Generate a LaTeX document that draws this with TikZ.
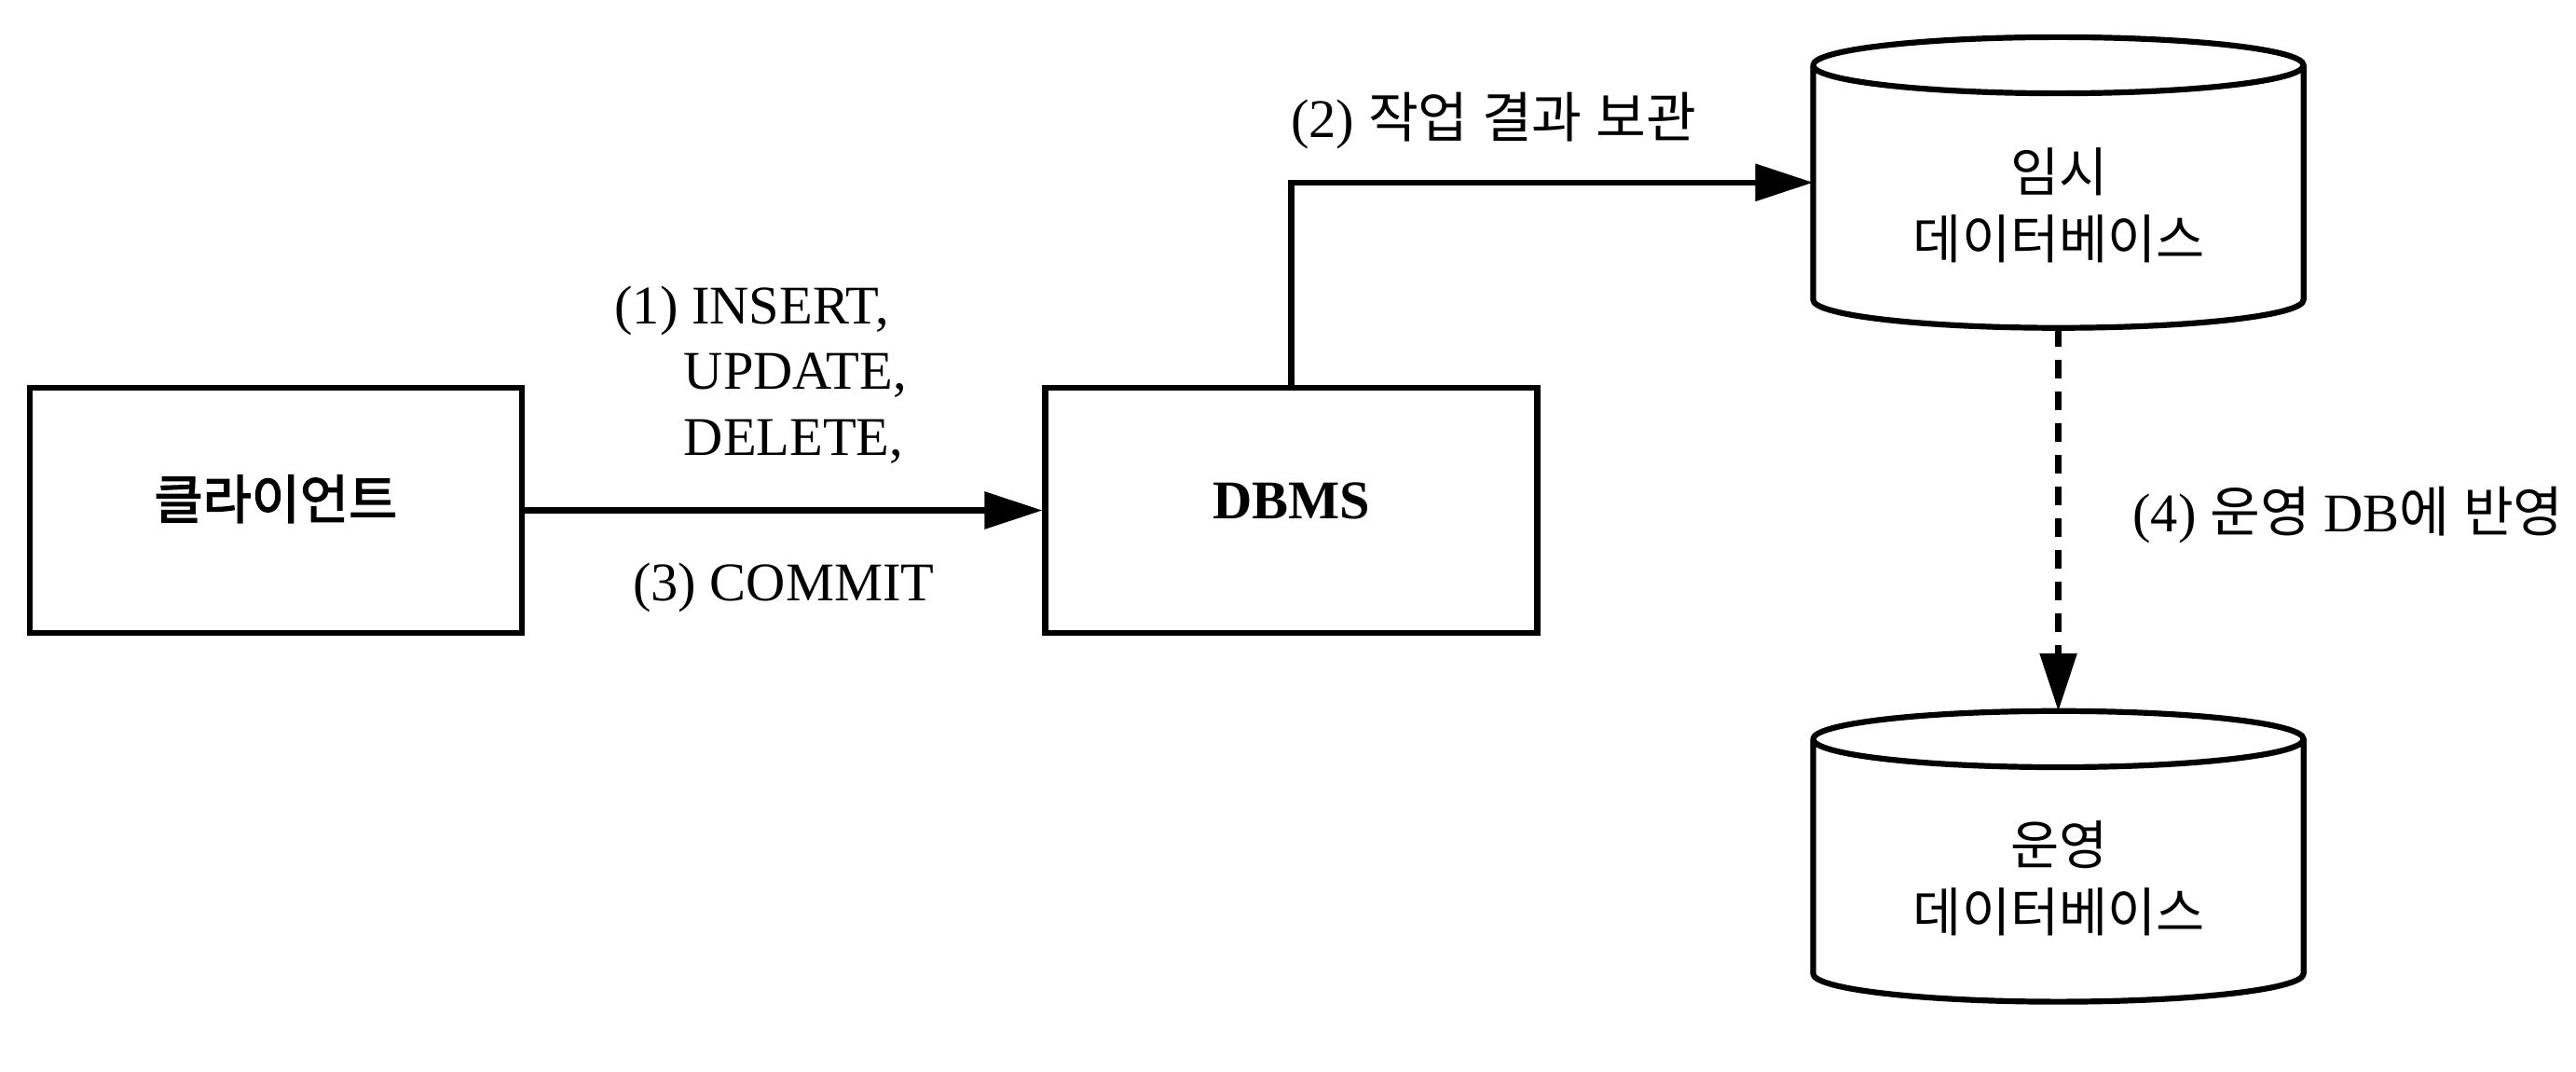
\documentclass[tikz,border=0pt]{standalone}
\usepackage{fontspec}
\setmainfont{Liberation Serif}
\newfontfamily\ko[Scale=1.0]{Noto Sans CJK KR}
\newfontfamily\kob[Scale=1.0,FakeBold=2.5]{Noto Sans CJK KR}
\usetikzlibrary{arrows.meta}
\newcommand\drawcyl[1]{%
  \draw[shapeline] ([yshift=-17pt]#1.north west) -- ([yshift=17pt]#1.south west)
    arc[start angle=180,end angle=360,x radius=148.5pt,y radius=17pt]
    -- ([yshift=-17pt]#1.north east)
    arc[start angle=0,end angle=180,x radius=148.5pt,y radius=17pt]
    arc[start angle=180,end angle=360,x radius=148.5pt,y radius=17pt];
}
\begin{document}
\begin{tikzpicture}[x=1pt,y=-1pt,
  basefont/.style={font=\fontsize{33}{40}\selectfont},
  boxnode/.style={draw, line width=3.5pt, minimum width=298pt, minimum height=148pt,
    inner sep=0pt, text height=22pt, text depth=12pt,
    font=\fontsize{33}{40}\selectfont\bfseries},
  cylnode/.style={minimum width=297pt, minimum height=176pt, inner sep=0pt, outer sep=0pt},
  shapeline/.style={line width=3.5pt, line join=round, fill=white},
  conn/.style={line width=3.5pt, -{Triangle[length=35pt,width=22pt]}},
  dashconn/.style={conn, dash pattern=on 11.3pt off 7.9pt},
  lbl/.style={basefont, inner sep=0pt},
  dblbl/.style={font=\fontsize{32}{40.5}\selectfont\ko, inner sep=0pt, align=center}]
\fill[white] (0,0) rectangle (1560,649);
\useasboundingbox (0,0) rectangle (1560,649);

% boxes
\node[boxnode] (client) at (167,309) {{\fontsize{32}{40}\selectfont\kob\mdseries 클라이언트}};
\node[boxnode] (dbms) at (782,309) {DBMS};

% cylinders
\node[cylnode] (tdb) at (1246.5,110.5) {};
\node[cylnode] (odb) at (1246.5,518.5) {};
\drawcyl{tdb}
\drawcyl{odb}
\node[dblbl] (tdbtext) at (1247,124.5) {임시\\데이터베이스};
\node[dblbl] (odbtext) at (1247,532) {운영\\데이터베이스};

% connectors
\draw[conn] (client.east) -- (dbms.west);
\draw[conn] (dbms.north) |- (tdb.west);
\draw[dashconn] (tdb.south) -- (odb.north);

% labels
\node[lbl, anchor=west, align=left] (l1) at (372,227)
  {(1) INSERT,\\\hspace*{42pt}UPDATE,\\\hspace*{42pt}DELETE,};
\node[lbl] (l3) at (474.5,356) {(3) COMMIT};
\node[lbl] (l2) at (904.5,73) {(2) {\ko 작업} {\ko 결과} {\ko 보관}};
\node[lbl] (l4) at (1422,312) {(4) {\ko 운영} DB{\ko 에} {\ko 반영}};
\end{tikzpicture}
\end{document}
